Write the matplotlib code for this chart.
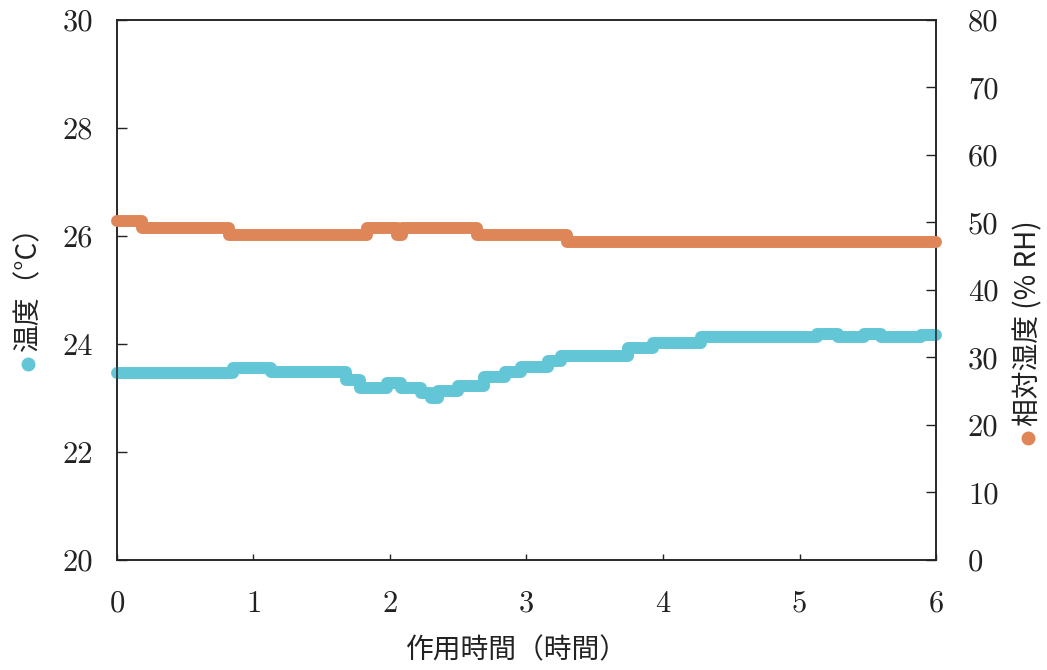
import matplotlib
matplotlib.use("Agg")
import matplotlib.pyplot as plt
from matplotlib.lines import Line2D

# ---- data ----
temp_t = [0, 0.85, 1.13, 1.68, 1.78, 1.98, 2.08, 2.23, 2.30, 2.35, 2.50, 2.69,
          2.84, 2.96, 3.16, 3.25, 3.74, 3.93, 4.28, 5.13, 5.28, 5.47, 5.60, 5.89, 6.00]
temp_v = [23.46, 23.56, 23.48, 23.34, 23.18, 23.27, 23.19, 23.10, 23.00, 23.12, 23.23, 23.38,
          23.48, 23.58, 23.68, 23.78, 23.92, 24.01, 24.12, 24.19, 24.12, 24.19, 24.12, 24.16, 24.16]

hum_t = [0, 0.18, 0.82, 1.83, 2.05, 2.09, 2.64, 3.30, 6.00]
hum_v = [50.2, 49.25, 48.2, 49.25, 48.2, 49.25, 48.2, 47.05, 47.05]

x_ticks = [0, 1, 2, 3, 4, 5, 6]
t_ticks = [20, 22, 24, 26, 28, 30]
h_ticks = [0, 10, 20, 30, 40, 50, 60, 70, 80]

x_label = "作用時間（時間）"
t_label = "温度（°C）"
h_label = "相対湿度 (% RH)"

blue = "#62C6D6"
orange = "#DF8659"
ink = "#222222"

cjk = ["Noto Sans CJK JP", "DejaVu Sans"]
num_font = "cmr10"

fig = plt.figure(figsize=(10.47, 6.70), dpi=100)
ax = fig.add_axes([0.1117, 0.1642, 0.7823, 0.806])
ax2 = ax.twinx()

ax.plot(temp_t, temp_v, drawstyle="steps-post", color=blue, lw=8.6,
        solid_capstyle="round", solid_joinstyle="round", clip_on=False, zorder=3)
ax2.plot(hum_t, hum_v, drawstyle="steps-post", color=orange, lw=8.6,
         solid_capstyle="round", solid_joinstyle="round", clip_on=False, zorder=3)

ax.set_xlim(0, 6)
ax.set_ylim(20, 30)
ax2.set_ylim(0, 80)
ax.set_xticks(x_ticks)
ax.set_yticks(t_ticks)
ax2.set_yticks(h_ticks)

for a in (ax, ax2):
    for s in a.spines.values():
        s.set_linewidth(1.1)
        s.set_color(ink)

ax.tick_params(axis="x", direction="in", length=4, width=1, pad=22, colors=ink, labelsize=22)
ax.tick_params(axis="y", direction="in", length=7, width=1, pad=17, colors=ink, labelsize=22)
ax2.tick_params(axis="y", direction="in", length=7, width=1, pad=23, colors=ink, labelsize=22)
for lab in ax.get_xticklabels() + ax.get_yticklabels() + ax2.get_yticklabels():
    lab.set_fontfamily(num_font)

# axis labels with coloured dots
fig.text(517 / 1047, 1 - 650 / 670, x_label, ha="center", va="center",
         fontsize=20, family=cjk, color=ink)
fig.text(28 / 1047, 1 - 351 / 670, t_label, rotation=90, ha="center", va="bottom",
         fontsize=20, family=cjk, color=ink)
fig.text(1028 / 1047, 1 - 426 / 670, h_label, rotation=90, ha="center", va="bottom",
         fontsize=20, family=cjk, color=ink)
fig.add_artist(Line2D([28 / 1047], [1 - 364 / 670], marker="o", ms=9, color=blue,
                      transform=fig.transFigure, linestyle="none"))
fig.add_artist(Line2D([1028 / 1047], [1 - 438 / 670], marker="o", ms=9, color=orange,
                      transform=fig.transFigure, linestyle="none"))

fig.savefig("out.png", dpi=100)
